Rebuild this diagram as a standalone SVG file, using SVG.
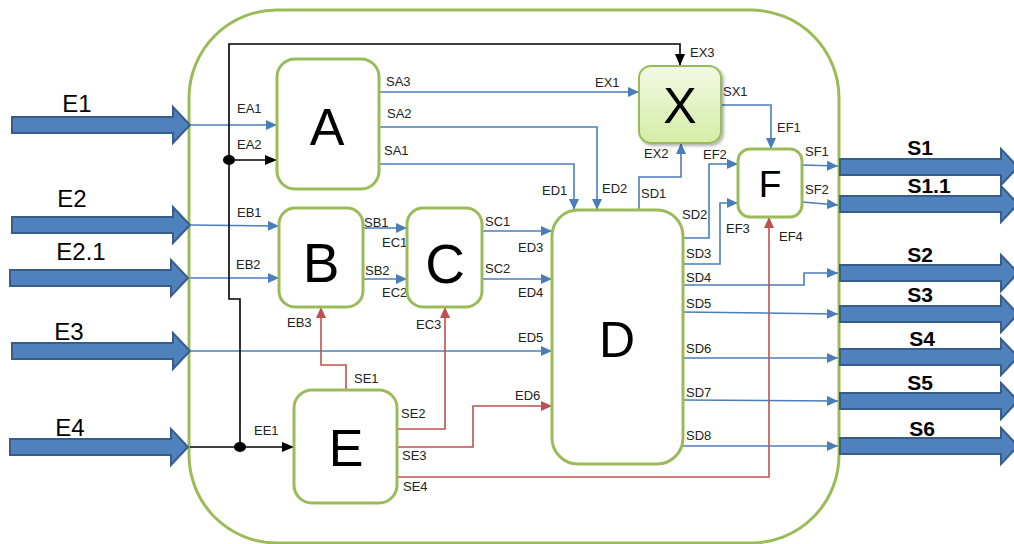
<svg xmlns="http://www.w3.org/2000/svg" width="1014" height="544" viewBox="0 0 1014 544">
<style>
.node{fill:#fff;stroke:#9BBB59;stroke-width:3}
.big{font-family:"Liberation Sans",Arial,sans-serif;fill:#000;text-anchor:middle}
.lbl{font-family:"Liberation Sans",Arial,sans-serif;font-size:13px;fill:#222}
.io{font-family:"Liberation Sans",Arial,sans-serif;fill:#000;text-anchor:middle}
.blk{fill:#4F81BD;stroke:#385D8A;stroke-width:2}
.cb{fill:none;stroke:#4A7EBB;stroke-width:1.6;marker-end:url(#ab)}
.ck{fill:none;stroke:#000;stroke-width:1.6}
.cr{fill:none;stroke:#C0504D;stroke-width:1.6;marker-end:url(#ar)}
</style>
<defs>
<marker id="ab" markerUnits="userSpaceOnUse" markerWidth="11" markerHeight="10" refX="11" refY="5" orient="auto"><path d="M0 0 L11 5 L0 10 Z" fill="#4A7EBB"/></marker>
<marker id="ar" markerUnits="userSpaceOnUse" markerWidth="11" markerHeight="10" refX="11" refY="5" orient="auto"><path d="M0 0 L11 5 L0 10 Z" fill="#C0504D"/></marker>
<marker id="ak" markerUnits="userSpaceOnUse" markerWidth="12" markerHeight="10" refX="12" refY="5" orient="auto"><path d="M0 0 L12 5 L0 10 Z" fill="#000"/></marker>
<path id="bigArrow" d="M-178 -8 H-17 V-18 L0 0 L-17 18 V8 H-178 Z"/>
<linearGradient id="gx" x1="0" y1="0" x2="0" y2="1"><stop offset="0" stop-color="#F2F9E4"/><stop offset="1" stop-color="#D5EDA6"/></linearGradient>
<filter id="sh" x="-20%" y="-20%" width="150%" height="150%"><feDropShadow dx="2" dy="2" stdDeviation="1.5" flood-color="#000" flood-opacity="0.3"/></filter>
</defs>

<g id="container"><rect x="189" y="10" width="650" height="533" rx="88" fill="#fff" stroke="#9BBB59" stroke-width="3"/></g>

<g id="inputs">
<use href="#bigArrow" class="blk" x="190" y="125"/>
<use href="#bigArrow" class="blk" x="190" y="225"/>
<use href="#bigArrow" class="blk" x="188" y="278"/>
<use href="#bigArrow" class="blk" x="190" y="351"/>
<use href="#bigArrow" class="blk" x="188" y="447"/>
<text class="io" x="77" y="112" font-size="24">E1</text>
<text class="io" x="72" y="207" font-size="24">E2</text>
<text class="io" x="81" y="260" font-size="24">E2.1</text>
<text class="io" x="69" y="340" font-size="24">E3</text>
<text class="io" x="70" y="436" font-size="24">E4</text>
</g>

<g id="outputs">
<use href="#bigArrow" class="blk" x="1018" y="167"/>
<use href="#bigArrow" class="blk" x="1018" y="204"/>
<use href="#bigArrow" class="blk" x="1018" y="273"/>
<use href="#bigArrow" class="blk" x="1018" y="314"/>
<use href="#bigArrow" class="blk" x="1018" y="357"/>
<use href="#bigArrow" class="blk" x="1018" y="401"/>
<use href="#bigArrow" class="blk" x="1018" y="446"/>
<text class="io" x="920" y="155" font-size="21" font-weight="bold">S1</text>
<text class="io" x="929" y="193" font-size="21" font-weight="bold">S1.1</text>
<text class="io" x="920" y="262" font-size="21" font-weight="bold">S2</text>
<text class="io" x="920" y="302" font-size="21" font-weight="bold">S3</text>
<text class="io" x="922" y="346" font-size="21" font-weight="bold">S4</text>
<text class="io" x="920" y="390" font-size="21" font-weight="bold">S5</text>
<text class="io" x="922" y="436" font-size="21" font-weight="bold">S6</text>
</g>

<g id="connectors">
<path class="cb" d="M190 125 H277"/>
<path class="cb" d="M379 92 H639"/>
<path class="cb" d="M379 127 H597 V210"/>
<path class="cb" d="M379 164 H574 V210"/>
<path class="cb" d="M639 210 V177 H681 V143"/>
<path class="cb" d="M721 105 H771 V149"/>
<path class="cb" d="M683 238 H709 V164 H738"/>
<path class="cb" d="M683 264 H720 V203 H738"/>
<path class="cb" d="M683 285 H804 V273 H838"/>
<path class="cb" d="M683 312 L838 314"/>
<path class="cb" d="M683 358 H838"/>
<path class="cb" d="M683 400 L838 401"/>
<path class="cb" d="M683 446 H838"/>
<path class="cb" d="M802 165 L838 166"/>
<path class="cb" d="M802 202 L838 205"/>
<path class="cb" d="M190 225 L279 226"/>
<path class="cb" d="M190 278 H279"/>
<path class="cb" d="M363 228 H407"/>
<path class="cb" d="M363 279 H407"/>
<path class="cb" d="M482 231 H552"/>
<path class="cb" d="M482 279 H552"/>
<path class="cb" d="M190 351 H552"/>
<path class="ck" d="M240 447 V299 H229 V44 H680 V66" marker-end="url(#ak)"/>
<path class="ck" d="M229 160 H277" marker-end="url(#ak)"/>
<path class="ck" d="M190 447 H294" marker-end="url(#ak)"/>
<ellipse cx="229" cy="160" rx="6" ry="5" fill="#000"/>
<ellipse cx="240" cy="447" rx="6" ry="5" fill="#000"/>
<path class="cr" d="M346 390 V365 H321 V307"/>
<path class="cr" d="M397 429 H445 V307"/>
<path class="cr" d="M397 447 H473 V406 H552"/>
<path class="cr" d="M397 477 H769 V217"/>
</g>

<g id="labels" class="lbl">
<text x="237" y="113">EA1</text>
<text x="237" y="149">EA2</text>
<text x="386" y="86">SA3</text>
<text x="387" y="118">SA2</text>
<text x="384" y="155">SA1</text>
<text x="595" y="87">EX1</text>
<text x="690" y="57">EX3</text>
<text x="542" y="195">ED1</text>
<text x="602" y="193">ED2</text>
<text x="641" y="198">SD1</text>
<text x="644" y="158">EX2</text>
<text x="723" y="96">SX1</text>
<text x="777" y="132">EF1</text>
<text x="703" y="159">EF2</text>
<text x="682" y="219">SD2</text>
<text x="686" y="258">SD3</text>
<text x="726" y="233">EF3</text>
<text x="779" y="241">EF4</text>
<text x="805" y="156">SF1</text>
<text x="805" y="194">SF2</text>
<text x="686" y="282">SD4</text>
<text x="686" y="308">SD5</text>
<text x="686" y="353">SD6</text>
<text x="686" y="397">SD7</text>
<text x="686" y="440">SD8</text>
<text x="237" y="217">EB1</text>
<text x="236" y="269">EB2</text>
<text x="364" y="227">SB1</text>
<text x="382" y="247">EC1</text>
<text x="365" y="275">SB2</text>
<text x="382" y="297">EC2</text>
<text x="485" y="226">SC1</text>
<text x="518" y="252">ED3</text>
<text x="485" y="273">SC2</text>
<text x="518" y="297">ED4</text>
<text x="518" y="342">ED5</text>
<text x="287" y="327">EB3</text>
<text x="416" y="329">EC3</text>
<text x="354" y="383">SE1</text>
<text x="401" y="418">SE2</text>
<text x="515" y="400">ED6</text>
<text x="402" y="460">SE3</text>
<text x="403" y="491">SE4</text>
<text x="254" y="435">EE1</text>
</g>

<g id="A"><rect class="node" x="277" y="59" width="102" height="130" rx="18"/><text class="big" x="327" y="145" font-size="52">A</text></g>
<g id="X"><rect x="639" y="66" width="82" height="77" rx="12" fill="url(#gx)" stroke="#9BBB59" stroke-width="2" filter="url(#sh)"/><text class="big" x="680" y="123" font-size="50">X</text></g>
<g id="F"><rect class="node" x="738" y="149" width="64" height="68" rx="12"/><text class="big" x="770" y="197" font-size="37">F</text></g>
<g id="B"><rect class="node" x="279" y="208" width="84" height="99" rx="16"/><text class="big" x="321" y="282" font-size="55">B</text></g>
<g id="C"><rect class="node" x="407" y="208" width="75" height="99" rx="16"/><text class="big" x="445" y="283" font-size="55">C</text></g>
<g id="D"><rect class="node" x="552" y="210" width="131" height="254" rx="26"/><text class="big" x="617" y="357" font-size="50">D</text></g>
<g id="E"><rect class="node" x="294" y="390" width="103" height="113" rx="18"/><text class="big" x="346" y="466" font-size="52">E</text></g>
</svg>
